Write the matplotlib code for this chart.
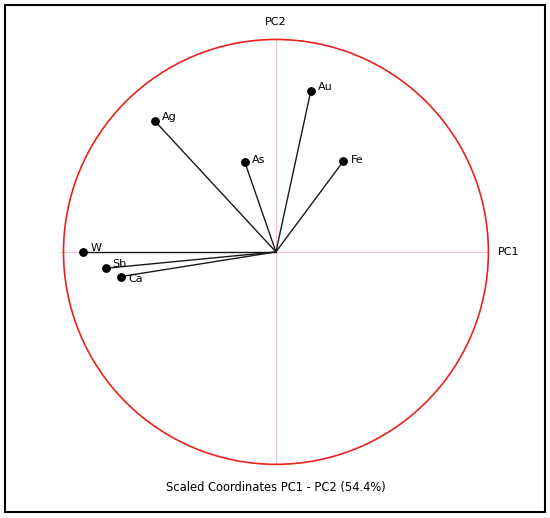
import numpy as np
import matplotlib.pyplot as plt
from matplotlib.patches import Circle, Rectangle

labels = ['Au', 'Ag', 'As', 'Fe', 'W', 'Sb', 'Ca']
pc1 = [0.164, -0.568, -0.147, 0.318, -0.907, -0.801, -0.729]
pc2 = [0.757, 0.614, 0.424, 0.428, 0.0, -0.077, -0.116]

# small vertical nudges for the labels (points), like a text-repel pass
label_dy = {'Au': 3, 'Ag': 3.5, 'As': 1, 'Fe': 0.7, 'W': 3, 'Sb': 3, 'Ca': -2}

fig = plt.figure(figsize=(5.5, 5.18), dpi=100)
a = 1.2
ax = fig.add_axes([0.0382, 0.0212, 0.927, 0.985])
ax.set_xlim(-a, a)
ax.set_ylim(-a, a)
ax.set_aspect('equal')
ax.axis('off')

# reference lines
ax.plot([-1.02, 1.0], [0, 0], color='#f5c6cb', lw=0.8, zorder=0)
ax.plot([0, 0], [-1.0, 1.0], color='#f5c6cb', lw=0.8, zorder=0)

ax.add_patch(Circle((0, 0), 1.0, fill=False, color='#e8231f', lw=1.2))

for lab, x, y in zip(labels, pc1, pc2):
    ax.plot([0, x], [0, y], color='#1a1a1a', lw=1.0)
    ax.plot(x, y, 'o', color='black', ms=5.3)
    ax.annotate(lab, (x, y), xytext=(5, label_dy[lab]), textcoords='offset points',
                fontsize=8, va='center', ha='left')

ax.text(1.047, 0, 'PC1', fontsize=8, va='center', ha='left')
ax.text(0, 1.082, 'PC2', fontsize=8, va='center', ha='center')
ax.text(0, -1.108, 'Scaled Coordinates PC1 - PC2 (54.4%)', fontsize=8.3,
        va='center', ha='center')

fig.patches.append(Rectangle((5 / 550, 6 / 518), 540 / 550, 507 / 518,
                             transform=fig.transFigure, fill=False,
                             edgecolor='black', lw=1.5))

fig.savefig('out.png', dpi=100)
